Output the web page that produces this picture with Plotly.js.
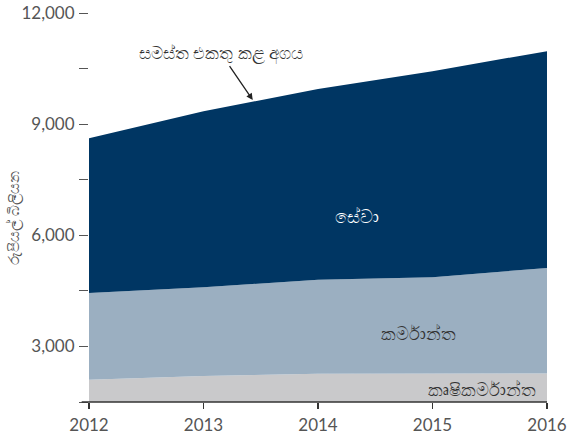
<!DOCTYPE html>
<html>
<head>
<meta charset="utf-8">
<script src="https://cdn.plot.ly/plotly-3.0.1.min.js"></script>
<style>html,body{margin:0;padding:0;background:#fff;}#chart{width:572px;height:434px;}</style>
</head>
<body>
<div id="chart"></div>
<script>
var years = [2012, 2013, 2014, 2015, 2016];
var agriculture = [2100, 2200, 2260, 2265, 2270];
var industry = [2340, 2400, 2540, 2605, 2850];
var services = [4180, 4750, 5150, 5560, 5850];
var seriesNames = ['කෘෂිකර්මාන්ත', 'කර්මාන්ත', 'සේවා'];
var totalLabel = 'සමස්ත එකතු කළ අගය';
var yTitle = 'රුපියල් බිලියන';
var yTickVals = [1500, 3000, 4500, 6000, 7500, 9000, 10500, 12000];
var yTickText = ['', '3,000', '', '6,000', '', '9,000', '', '12,000'];

var font = 'Lato, "Noto Sans", sans-serif';
var grey = '#555555';

function trace(y, name, color) {
  return {x: years, y: y, name: name, type: 'scatter', mode: 'lines', stackgroup: 'one',
    line: {width: 0, color: color}, fillcolor: color, hoverinfo: 'skip'};
}

var data = [
  trace(agriculture, seriesNames[0], '#c9c9cb'),
  trace(industry, seriesNames[1], '#9bafc1'),
  trace(services, seriesNames[2], '#003663')
];

var layout = {
  width: 572, height: 434,
  margin: {l: 89, r: 25, t: 13, b: 32},
  paper_bgcolor: '#ffffff', plot_bgcolor: '#ffffff',
  showlegend: false,
  font: {family: font, size: 17, color: grey},
  xaxis: {range: [2012, 2016], tickvals: years, ticktext: years.map(String),
    showgrid: false, zeroline: false, showline: false,
    ticks: 'outside', ticklen: 6, tickcolor: '#333', tickwidth: 1.5,
    ticklabelstandoff: 2,
    tickfont: {family: font, size: 17, color: '#555'}},
  yaxis: {range: [1500, 12000], tickvals: yTickVals, ticktext: yTickText,
    showgrid: false, zeroline: false, showline: false,
    ticks: 'outside', ticklen: 9, tickcolor: '#555', tickwidth: 1,
    ticklabelstandoff: 1,
    tickfont: {family: font, size: 17, color: grey}},
  shapes: [
    {type: 'line', xref: 'paper', yref: 'paper', x0: -0.016, x1: 1, y0: 0, y1: 0,
     line: {color: '#333', width: 1.5}}
  ],
  annotations: [
    {x: -0.166, y: 0.473, xref: 'paper', yref: 'paper', text: yTitle, textangle: -90,
     showarrow: false, xanchor: 'center', yanchor: 'middle',
     font: {family: font, size: 15, color: grey}},
    {x: 2013.43, y: 9650, xref: 'x', yref: 'y', text: totalLabel, showarrow: true,
     ax: 2013.15, ay: 10915, axref: 'x', ayref: 'y',
     arrowhead: 2, arrowsize: 1, arrowwidth: 1.3, arrowcolor: '#222', standoff: 0,
     font: {family: font, size: 17, color: '#333'}},
    {x: 2014.34, y: 6520, xref: 'x', yref: 'y', text: seriesNames[2], showarrow: false,
     font: {family: font, size: 18, color: '#ffffff'}},
    {x: 2014.88, y: 3370, xref: 'x', yref: 'y', text: seriesNames[1], showarrow: false,
     font: {family: font, size: 18, color: '#333'}},
    {x: 2015.43, y: 1860, xref: 'x', yref: 'y', text: seriesNames[0], showarrow: false,
     font: {family: font, size: 18, color: '#333'}}
  ]
};

Plotly.newPlot('chart', data, layout, {displayModeBar: false, staticPlot: true});
</script>
</body>
</html>
